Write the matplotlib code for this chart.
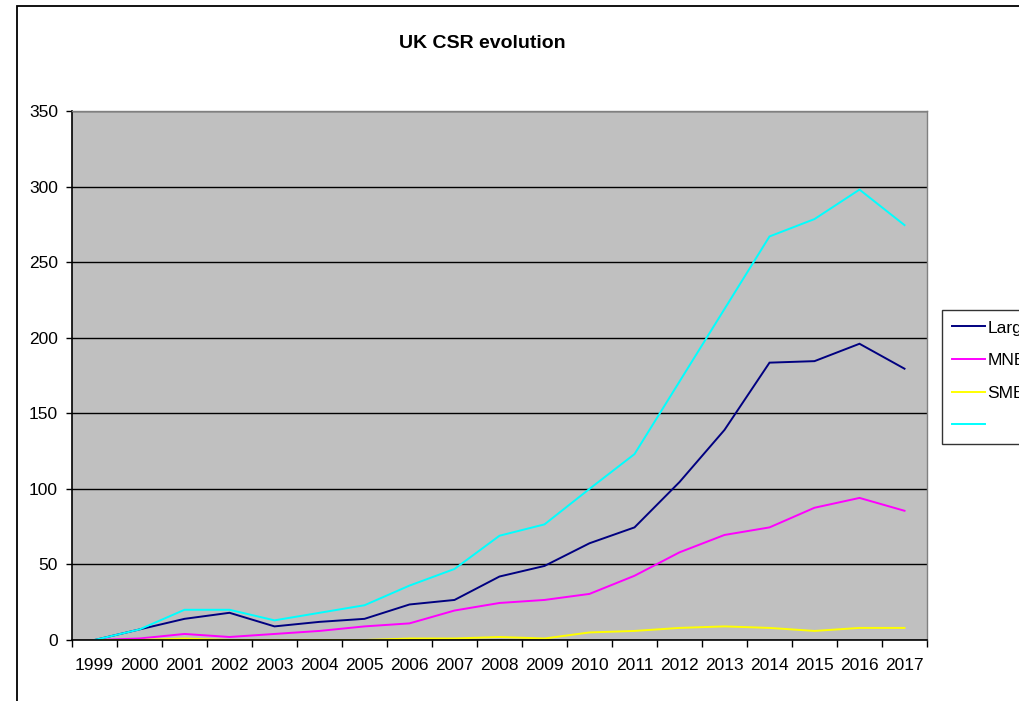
import matplotlib
matplotlib.use("Agg")
import matplotlib.pyplot as plt
from matplotlib.patches import Rectangle

plt.rcParams['font.family'] = ['Liberation Sans', 'DejaVu Sans']

# Yearly CSR counts by firm type
years = [str(y) for y in range(1999, 2018)]
large = [0, 7, 14, 18, 9, 12, 14, 23.5, 26.5, 42, 49, 64, 74.5, 104.5, 139, 183.5, 184.5, 196, 179.5]
mne = [0, 1, 4, 2, 4, 6, 9, 11, 19.5, 24.5, 26.5, 30.5, 42.5, 58, 69.5, 74.5, 87.5, 94, 85.5]
sme = [0, 0, 1, 0, 0, 0, 0, 1, 1, 2, 1, 5, 6, 8, 9, 8, 6, 8, 8]
total = [0, 7, 20, 20, 13, 18, 23, 36, 47, 69, 76.5, 100, 123, 171, 219, 267, 278.5, 298, 274.5]

series_labels = ['Large', 'MNE', 'SME', '']
series_colors = ['#000080', '#FF00FF', '#FFFF00', '#00FFFF']

W, H = 1020, 701
fig = plt.figure(figsize=(W / 100, H / 100), dpi=100)
fig.patch.set_facecolor('white')

# outer chart frame (runs off the right and bottom edges)
fig.patches.append(Rectangle((17 / W, -0.1), 1.2, 1 - 6 / H + 0.1,
                             transform=fig.transFigure, fill=False,
                             edgecolor='black', linewidth=1.3, clip_on=False))

ax = fig.add_axes([72 / W, (H - 640) / H, (927 - 72) / W, (640 - 111) / H])
ax.set_facecolor('#C0C0C0')

x = list(range(len(years)))
handles = []
for vals, c in zip([large, mne, sme, total], series_colors):
    ln, = ax.plot(x, vals, color=c, linewidth=1.4, solid_joinstyle='miter')
    handles.append(ln)

ax.set_xlim(-0.5, len(years) - 0.5)
ax.set_ylim(0, 350)
ax.set_yticks(range(0, 351, 50))
ax.yaxis.grid(True, color='black', linewidth=1.0)
ax.set_axisbelow(True)

# category labels in the middle, tick marks between categories
ax.set_xticks([i - 0.5 for i in range(len(years) + 1)])
ax.set_xticklabels([])
ax.set_xticks(x, minor=True)
ax.set_xticklabels(years, minor=True)
ax.tick_params(axis='x', which='major', length=5, width=1, direction='out', color='black')
ax.tick_params(axis='x', which='minor', length=0, pad=13, labelsize=12.5)
ax.tick_params(axis='y', length=4, width=1, direction='out', pad=6, labelsize=12.5)

for side in ['left', 'bottom']:
    ax.spines[side].set_color('black')
    ax.spines[side].set_linewidth(1.2)
for side in ['top', 'right']:
    ax.spines[side].set_color('#808080')
    ax.spines[side].set_linewidth(1.0)

fig.text(482 / W, 1 - 44 / H, 'UK CSR evolution', ha='center', va='center',
         fontsize=14, fontweight='bold')

leg = fig.legend(handles, series_labels, loc='upper left',
                 bbox_to_anchor=(942 / W, 1 - 310 / H), bbox_transform=fig.transFigure,
                 fontsize=12.5, frameon=True, fancybox=False, shadow=False,
                 handlelength=1.85, handletextpad=0.15, labelspacing=1.0,
                 borderpad=0.6, borderaxespad=0)
leg.get_frame().set_edgecolor('black')
leg.get_frame().set_linewidth(1.0)

fig.savefig('out.png', dpi=100)
